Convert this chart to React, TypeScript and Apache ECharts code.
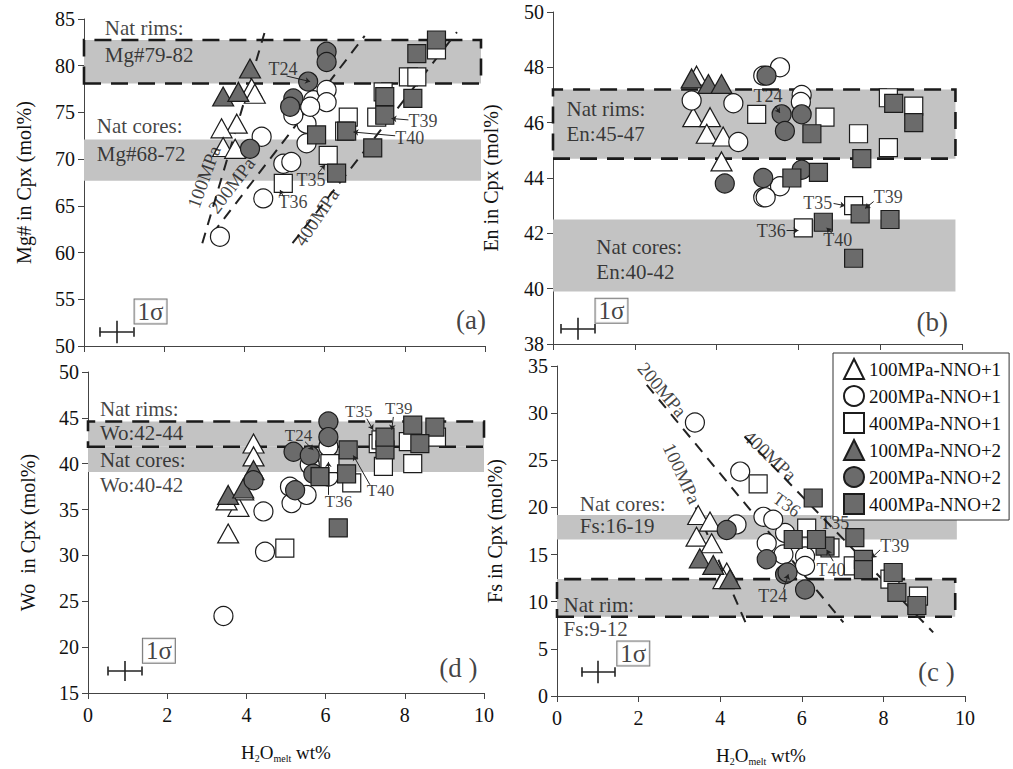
import React, { useEffect, useRef } from "react";
import * as echarts from "echarts";

type P = [number, number];

const FONT = "'Liberation Serif', 'Times New Roman', serif";
const WHITE = "#ffffff";
const GRAY = "#6b6b6b";
const EDGE = "#1c1c1c";
const BAND = "#c3c3c3";

const SERIES_NAMES = [
  "100MPa-NNO+1",
  "200MPa-NNO+1",
  "400MPa-NNO+1",
  "100MPa-NNO+2",
  "200MPa-NNO+2",
  "400MPa-NNO+2",
];
const X_TICKS = [0, 2, 4, 6, 8, 10];

// ---------- panel (a) Mg# ----------
const mgTri1: P[] = [[4.18, 77.6], [4.26, 77.0], [3.81, 73.8], [3.43, 73.3], [3.47, 71.3], [3.77, 71.1]];
const mgCir1: P[] = [[3.39, 61.7], [4.43, 72.4], [4.47, 65.8], [4.97, 69.5], [5.17, 69.7], [5.55, 71.7], [5.55, 73.8], [5.22, 74.7], [5.72, 76.3], [6.05, 77.4], [6.05, 76.1], [5.64, 75.6]];
const mgSq1: P[] = [[8.79, 81.7], [8.09, 78.8], [8.3, 78.8], [7.46, 77.2], [7.3, 74.5], [6.59, 74.5], [6.09, 70.4], [4.97, 67.4], [6.5, 73.0]];
const mgTri2: P[] = [[4.14, 79.7], [3.47, 76.7], [3.85, 77.2]];
const mgCir2: P[] = [[6.05, 81.5], [6.05, 80.4], [5.59, 78.3], [5.22, 76.5], [5.14, 75.6], [4.14, 71.1]];
const mgSq2: P[] = [[8.79, 82.75], [8.3, 81.3], [7.5, 76.7], [8.2, 76.5], [7.5, 74.7], [5.8, 72.6], [6.55, 73.0], [7.2, 71.2], [6.3, 68.5]];
const mgBands = [[78.1, 82.75, 9.9, 1], [67.7, 72.1, 9.9, 0]];
const mgPressure: [string, P, P][] = [
  ["100MPa", [2.95, 61.0], [4.5, 83.5]],
  ["200MPa", [3.2, 62.0], [7.0, 83.2]],
  ["400MPa", [5.2, 61.0], [9.3, 83.6]],
];
const mgPressureLabels: [string, number, number, number][] = [
  ["100MPa", 2.99, 68.1, 70],
  ["200MPa", 3.68, 67.2, 53],
  ["400MPa", 5.8, 63.8, 56],
];
const mgNotes: [string, number, number][] = [
  ["Nat rims:", 0.52, 84.0], ["Mg#79-82", 0.52, 81.1], ["Nat cores:", 0.32, 73.5], ["Mg#68-72", 0.32, 70.6],
];
const mgTags: [string, number, number][] = [
  ["T24", 4.6, 79.7], ["T39", 8.09, 74.1], ["T40", 7.76, 72.3], ["T35", 5.3, 67.75], ["T36", 4.85, 65.4],
];
const mgArrows: [P, P][] = [
  [[5.05, 78.9], [5.64, 78.3]], [[8.09, 74.2], [7.67, 74.35]], [[7.76, 72.5], [6.72, 72.9]],
  [[5.84, 68.5], [6.01, 69.4]], [[4.97, 66.0], [4.89, 66.7]],
];
const mgSigma = { box: [1.66, 53.7] as P, centre: [0.81, 51.5] as P, dx: 0.42, dy: 1.2, cap: 0.5, tag: "(a)", tagAt: [9.65, 52.75] as P };

// ---------- panel (b) En ----------
const enTri1: P[] = [[3.51, 47.7], [3.43, 46.2], [3.84, 46.2], [3.76, 45.6], [4.16, 45.5], [4.12, 44.6]];
const enCir1: P[] = [[3.39, 46.8], [4.41, 46.7], [4.53, 45.3], [5.14, 47.7], [5.55, 48.0], [6.08, 47.0], [6.06, 46.75], [5.14, 43.3], [5.55, 43.7], [5.2, 43.3]];
const enSq1: P[] = [[4.98, 46.3], [6.65, 46.2], [7.47, 45.6], [8.2, 45.1], [8.2, 46.9], [8.82, 46.6], [7.35, 43.0], [6.12, 42.2]];
const enTri2: P[] = [[3.39, 47.6], [3.8, 47.4], [4.12, 47.4]];
const enCir2: P[] = [[5.22, 47.7], [5.59, 46.3], [5.67, 45.7], [6.08, 46.3], [5.14, 44.0], [4.2, 43.8], [6.08, 44.3]];
const enSq2: P[] = [[6.33, 45.6], [7.55, 44.7], [8.33, 46.7], [8.82, 46.0], [5.84, 44.0], [6.49, 44.2], [7.51, 42.7], [6.61, 42.4], [8.24, 42.5], [7.35, 41.1]];
const enBands = [[44.7, 47.2, 9.84, 1], [39.9, 42.5, 9.84, 0]];
const enNotes: [string, number, number][] = [
  ["Nat rims:", 0.33, 46.5], ["En:45-47", 0.33, 45.6], ["Nat cores:", 1.06, 41.5], ["En:40-42", 1.06, 40.6],
];
const enTags: [string, number, number][] = [
  ["T24", 4.9, 46.95], ["T35", 6.12, 43.08], ["T39", 7.84, 43.3], ["T36", 4.98, 42.1], ["T40", 6.61, 41.75],
];
const enArrows: [P, P][] = [
  [[5.43, 46.6], [5.55, 46.35]], [[6.86, 43.08], [7.14, 43.0]], [[7.84, 43.15], [7.63, 42.9]],
  [[5.71, 42.1], [6.0, 42.1]], [[6.82, 42.0], [6.69, 42.2]],
];
const enSigma = { box: [1.43, 39.2] as P, centre: [0.61, 38.55] as P, dx: 0.41, dy: 0.4, cap: 0.17, tag: "(b)", tagAt: [9.27, 38.8] as P };

// ---------- panel (d) Wo ----------
const woTri1: P[] = [[4.18, 42.2], [4.18, 40.8], [3.54, 32.4], [3.8, 35.3], [3.5, 36.0], [3.92, 37.1]];
const woCir1: P[] = [[3.42, 23.4], [4.43, 34.8], [4.47, 30.4], [5.14, 35.7], [5.52, 36.6], [5.1, 37.5], [5.6, 39.9], [6.07, 41.85], [6.07, 38.6]];
const woSq1: P[] = [[4.97, 30.8], [6.66, 37.9], [6.11, 40.0], [7.33, 42.2], [7.46, 39.7], [8.09, 42.4], [8.2, 40.0], [8.8, 42.9], [7.4, 42.6]];
const woTri2: P[] = [[4.18, 39.3], [3.54, 36.6], [3.92, 37.3]];
const woCir2: P[] = [[6.07, 44.6], [6.07, 42.9], [5.19, 41.3], [5.6, 40.9], [5.23, 37.1], [4.18, 38.2], [5.69, 38.9]];
const woSq2: P[] = [[6.32, 33.0], [6.57, 41.5], [6.53, 38.9], [8.2, 44.2], [8.76, 44.0], [7.5, 41.5], [8.38, 42.2], [7.5, 42.9], [5.86, 38.6]];
const woBands = [[39.1, 41.85, 10.0, 0], [41.85, 44.6, 10.0, 1]];
const woNotes: [string, number, number][] = [
  ["Nat rims:", 0.3, 46.0], ["Wo:42-44", 0.3, 43.3], ["Nat cores:", 0.3, 40.4], ["Wo:40-42", 0.3, 37.7],
];
const woTags: [string, number, number][] = [
  ["T35", 6.49, 45.65], ["T39", 7.5, 46.0], ["T24", 4.97, 43.1], ["T40", 7.04, 37.1], ["T36", 5.98, 35.9],
];
const woArrows: [P, P][] = [
  [[7.04, 44.9], [7.2, 43.7]], [[7.71, 45.1], [7.67, 43.7]], [[5.48, 42.4], [5.69, 41.5]],
  [[7.12, 37.7], [6.7, 40.9]], [[6.07, 36.6], [6.07, 40.2]],
];
const woSigma = { box: [1.79, 19.6] as P, centre: [0.93, 17.4] as P, dx: 0.42, dy: 1.1, cap: 0.5, tag: "(d )", tagAt: [9.35, 17.75] as P };

// ---------- panel (c) Fs ----------
const fsTri1: P[] = [[3.46, 19.2], [3.75, 18.5], [3.42, 16.9], [3.79, 16.2], [4.16, 13.1], [4.08, 12.4]];
const fsCir1: P[] = [[3.38, 29.0], [4.49, 23.8], [4.4, 18.2], [5.06, 19.0], [5.14, 16.2], [5.59, 17.3], [5.55, 15.0], [6.08, 14.8], [6.08, 13.8], [5.3, 18.7]];
const fsSq1: P[] = [[4.93, 22.5], [6.12, 17.8], [6.69, 15.7], [7.26, 13.8], [8.86, 10.6], [8.16, 12.4]];
const fsTri2: P[] = [[3.5, 14.6], [3.83, 13.9], [4.24, 12.4]];
const fsCir2: P[] = [[4.16, 17.6], [5.14, 14.5], [5.59, 12.9], [6.08, 11.3], [5.65, 13.1]];
const fsSq2: P[] = [[6.28, 21.0], [7.3, 16.8], [7.51, 14.5], [6.57, 15.9], [5.79, 16.6], [8.24, 13.1], [8.33, 11.0], [8.82, 9.6], [7.51, 13.4], [6.36, 16.6]];
const fsBands = [[16.6, 19.2, 9.8, 0], [8.4, 12.4, 9.76, 1]];
const fsPressure: [string, P, P][] = [
  ["200MPa", [2.2, 33.0], [7.02, 7.8]],
  ["100MPa", [3.4, 20.0], [4.65, 7.5]],
  ["400MPa", [4.6, 27.5], [9.22, 6.75]],
];
const fsPressureLabels: [string, number, number, number][] = [
  ["200MPa", 2.58, 32.5, -50],
  ["100MPa", 3.06, 23.6, -65],
  ["400MPa", 5.22, 25.5, -43],
];
const fsNotes: [string, number, number][] = [
  ["Nat cores:", 0.56, 20.4], ["Fs:16-19", 0.56, 18.0], ["Nat rim:", 0.16, 9.6], ["Fs:9-12", 0.16, 7.1],
];
const fsTags: [string, number, number][] = [
  ["T35", 6.45, 18.4], ["T39", 7.92, 15.9], ["T40", 6.36, 13.4], ["T24", 4.93, 10.6],
];
const fsRotTags: [string, number, number, number][] = [["T36", 5.63, 20.3, -35]];
const fsArrows: [P, P][] = [
  [[7.92, 15.5], [7.71, 14.65]], [[6.77, 14.3], [6.61, 15.5]], [[5.55, 11.3], [5.67, 12.9]],
];
const fsSigma = { box: [1.87, 4.5] as P, centre: [1.01, 2.55] as P, dx: 0.41, dy: 1.2, cap: 0.5, tag: "(c )", tagAt: [9.3, 2.55] as P };

const SYMBOLS = ["triangle", "circle", "rect", "triangle", "circle", "rect"];
const FILLS = [WHITE, WHITE, WHITE, GRAY, GRAY, GRAY];

function buildPanel(i: number, sets: P[][], bands: number[][], sigma: any, notes: any[], tags: any[], arrows: [P, P][], pressure?: [string, P, P][], pLabels?: any[], rotTags?: any[]) {
  const s: any[] = [];
  const ax = { xAxisIndex: i, yAxisIndex: i };
  s.push({
    type: "line", ...ax, data: [], silent: true, z: 1,
    markArea: {
      silent: true,
      data: bands.map((b) => [
        {
          coord: [0, b[0]],
          itemStyle: b[3]
            ? { color: BAND, borderColor: "#1a1a1a", borderWidth: 2.6, borderType: [17, 10] }
            : { color: BAND, borderWidth: 0 },
        },
        { coord: [b[2], b[1]] },
      ]),
    },
  });
  if (pressure) {
    pressure.forEach((p) => {
      s.push({
        type: "line", ...ax, data: [p[1], p[2]], symbol: "none", silent: true, z: 2,
        lineStyle: { color: "#222", width: 2, type: [11, 8] },
      });
    });
  }
  sets.forEach((d, k) => {
    s.push({
      type: "scatter", name: SERIES_NAMES[k], ...ax, data: d, symbol: SYMBOLS[k],
      symbolSize: k % 3 === 0 ? [21, 19] : k % 3 === 1 ? 19 : 18,
      itemStyle: { color: FILLS[k], borderColor: EDGE, borderWidth: 1.2, opacity: 1 },
      z: 5,
    });
  });
  s.push({
    type: "lines", coordinateSystem: "cartesian2d", ...ax, silent: true, z: 6,
    symbol: ["none", "arrow"], symbolSize: 5,
    lineStyle: { color: "#222", width: 1, opacity: 1 },
    data: arrows.map((a) => ({ coords: [a[0], a[1]] })),
  });
  const [cx, cy] = sigma.centre;
  s.push({
    type: "lines", coordinateSystem: "cartesian2d", ...ax, silent: true, z: 6,
    lineStyle: { color: "#222", width: 1.6, opacity: 1 },
    data: [
      { coords: [[cx - sigma.dx, cy], [cx + sigma.dx, cy]] },
      { coords: [[cx, cy - sigma.dy], [cx, cy + sigma.dy]] },
      { coords: [[cx - sigma.dx, cy - sigma.cap], [cx - sigma.dx, cy + sigma.cap]] },
      { coords: [[cx + sigma.dx, cy - sigma.cap], [cx + sigma.dx, cy + sigma.cap]] },
    ],
  });
  const txt = (data: any[], label: any, z = 10) => ({
    type: "scatter", ...ax, silent: true, symbolSize: 1, z,
    itemStyle: { color: "rgba(0,0,0,0)" },
    label: { show: true, formatter: "{b}", position: "inside", color: "#111", fontFamily: FONT, ...label },
    data,
  });
  s.push(txt(notes.map((n) => ({ name: n[0], value: [n[1], n[2]] })), { fontSize: 21, align: "left" }));
  s.push(txt(tags.map((n) => ({ name: n[0], value: [n[1], n[2]] })), { fontSize: i === 2 ? 17 : 18, align: "left" }));
  if (rotTags) {
    s.push(txt(rotTags.map((n) => ({ name: n[0], value: [n[1], n[2]], label: { rotate: n[3] } })), { fontSize: 18, align: "center" }));
  }
  if (pLabels) {
    s.push(txt(pLabels.map((n) => ({ name: n[0], value: [n[1], n[2]], label: { rotate: n[3] } })), { fontSize: 19, align: "center" }));
  }
  s.push(txt([{ name: "1σ", value: sigma.box }], {
    fontSize: 25, align: "center", backgroundColor: "#fff", borderColor: "#555", borderWidth: 1, padding: [0, 3, -1, 3],
  }));
  s.push(txt([{ name: sigma.tag, value: sigma.tagAt }], { fontSize: 27, align: "center" }));
  return s;
}

const GRIDS = [
  { left: 84, top: 19, width: 401, height: 327 },
  { left: 553, top: 12, width: 409, height: 332 },
  { left: 88, top: 372, width: 396, height: 321 },
  { left: 557, top: 366, width: 408, height: 330 },
];

const Y_AXES = [
  { min: 50, max: 85, interval: 5, name: "Mg# in Cpx (mol%)", gap: 50 },
  { min: 38, max: 50, interval: 2, name: "En in Cpx (mol%)", gap: 52 },
  { min: 15, max: 50, interval: 5, name: "Wo  in Cpx (mol%)", gap: 50 },
  { min: 0, max: 35, interval: 5, name: "Fs in Cpx (mol%)", gap: 52 },
];

export default function App() {
  const ref = useRef<HTMLDivElement>(null);
  useEffect(() => {
    if (!ref.current) return;
    const chart = echarts.init(ref.current, undefined, { renderer: "svg" });
    const lineStyle = { color: "#444", width: 1 };
    const xAxis = GRIDS.map((_, i) => ({
      type: "value", gridIndex: i, min: X_TICKS[0], max: X_TICKS[X_TICKS.length - 1], interval: 2,
      axisLine: { show: true, onZero: false, lineStyle },
      axisTick: { show: true, length: 6, lineStyle },
      splitLine: { show: false },
      axisLabel: { show: i >= 2, fontSize: 20, fontFamily: FONT, color: "#111", margin: 12 },
      name: i >= 2 ? "{n|H}{s|2}{n|O}{s|melt}{n| wt%}" : "",
      nameLocation: "middle",
      nameGap: 48,
      nameTextStyle: {
        rich: {
          n: { fontSize: 19, fontFamily: FONT, color: "#111", lineHeight: 22 },
          s: { fontSize: 10, fontFamily: FONT, color: "#111", lineHeight: 22, verticalAlign: "bottom", padding: [10, 0, 0, 0] },
        },
      },
    }));
    const yAxis = Y_AXES.map((y, i) => ({
      type: "value", gridIndex: i, min: y.min, max: y.max, interval: y.interval,
      axisLine: { show: true, onZero: false, lineStyle },
      axisTick: { show: true, length: 6, lineStyle },
      splitLine: { show: false },
      axisLabel: { fontSize: 20, fontFamily: FONT, color: "#111", margin: 9 },
      name: y.name, nameLocation: "middle", nameGap: y.gap,
      nameTextStyle: { fontSize: 20, fontFamily: FONT, color: "#111" },
    }));
    const series = [
      ...buildPanel(0, [mgTri1, mgCir1, mgSq1, mgTri2, mgCir2, mgSq2], mgBands, mgSigma, mgNotes, mgTags, mgArrows, mgPressure, mgPressureLabels),
      ...buildPanel(1, [enTri1, enCir1, enSq1, enTri2, enCir2, enSq2], enBands, enSigma, enNotes, enTags, enArrows),
      ...buildPanel(2, [woTri1, woCir1, woSq1, woTri2, woCir2, woSq2], woBands, woSigma, woNotes, woTags, woArrows),
      ...buildPanel(3, [fsTri1, fsCir1, fsSq1, fsTri2, fsCir2, fsSq2], fsBands, fsSigma, fsNotes, fsTags, fsArrows, fsPressure, fsPressureLabels, fsRotTags),
    ];
    chart.setOption({
      animation: false,
      backgroundColor: "#ffffff",
      textStyle: { fontFamily: FONT },
      grid: GRIDS,
      xAxis,
      yAxis,
      legend: {
        data: SERIES_NAMES,
        orient: "vertical",
        left: 833,
        top: 353,
        width: 175,
        padding: [5, 8, 5, 10],
        itemGap: 5,
        itemWidth: 20,
        itemHeight: 20,
        backgroundColor: "#fff",
        borderColor: "#333",
        borderWidth: 1,
        selectedMode: false,
        textStyle: { fontSize: 19, fontFamily: FONT, color: "#111", padding: [0, 0, 0, 0] },
      },
      series,
    });
    return () => chart.dispose();
  }, []);
  return <div ref={ref} style={{ position: "absolute", left: 0, top: 0, width: 1013, height: 769 }} />;
}
